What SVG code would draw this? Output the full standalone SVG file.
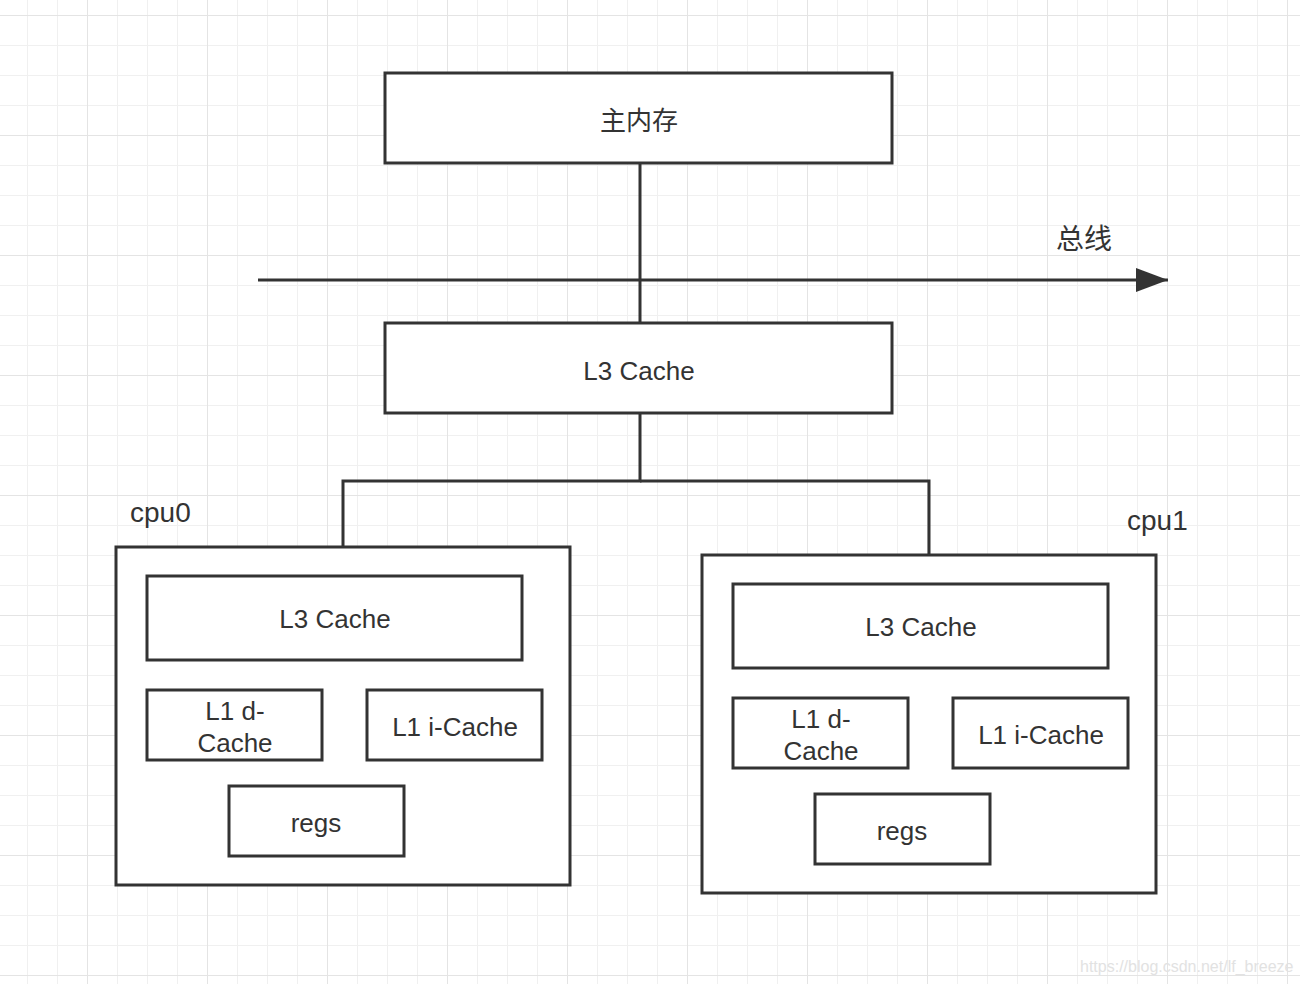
<svg xmlns="http://www.w3.org/2000/svg" width="1300" height="984" viewBox="0 0 1300 984">
<defs>
<pattern id="minor" x="27" y="15" width="30" height="30" patternUnits="userSpaceOnUse">
<path d="M0 0V30M0 0H30" fill="none" stroke="#f0f0f0" stroke-width="2"/>
</pattern>
<pattern id="major" x="87" y="15" width="120" height="120" patternUnits="userSpaceOnUse">
<path d="M0 0V120M0 0H120" fill="none" stroke="#e4e4e4" stroke-width="2"/>
</pattern>
<marker id="arrow" markerUnits="userSpaceOnUse" markerWidth="34" markerHeight="26" refX="32" refY="13" orient="auto">
<path d="M0 1L32 13L0 25Z" fill="#333"/>
</marker>
</defs>
<style>
.box{fill:#fff;stroke:#333;stroke-width:3}
.line{fill:none;stroke:#333;stroke-width:3}
.t{font-family:"Liberation Sans","Noto Sans CJK SC",sans-serif;font-size:26px;fill:#333;text-anchor:middle;dominant-baseline:central}
.lbl{font-family:"Liberation Sans","Noto Sans CJK SC",sans-serif;font-size:28px;fill:#333}
.wm{font-family:"Liberation Sans",sans-serif;font-size:16px;fill:#e2e2e2}
</style>
<rect width="1300" height="984" fill="#fff"/>
<rect width="1300" height="984" fill="url(#minor)"/>
<rect width="1300" height="984" fill="url(#major)"/>

<g id="connectors">
<path class="line" d="M640 164V323"/>
<path class="line" d="M258 280H1168" marker-end="url(#arrow)"/>
<path class="line" d="M640 413V481H343V547"/>
<path class="line" d="M640 481H929V555"/>
</g>

<g id="bus-label"><text class="lbl" x="1056" y="249">总线</text></g>

<g id="main-memory">
<rect class="box" x="385" y="73" width="507" height="90"/>
<text class="t" x="639" y="121">主内存</text>
</g>

<g id="l3-shared">
<rect class="box" x="385" y="323" width="507" height="90"/>
<text class="t" x="639" y="371">L3 Cache</text>
</g>

<g id="cpu0">
<text class="lbl" x="130" y="522">cpu0</text>
<rect class="box" x="116" y="547" width="454" height="338"/>
<g id="cpu0-l3">
<rect class="box" x="147" y="576" width="375" height="84"/>
<text class="t" x="335" y="619">L3 Cache</text>
</g>
<g id="cpu0-l1d">
<rect class="box" x="147" y="690" width="175" height="70"/>
<text class="t" x="235" y="711">L1 d-</text>
<text class="t" x="235" y="743">Cache</text>
</g>
<g id="cpu0-l1i">
<rect class="box" x="367" y="690" width="175" height="70"/>
<text class="t" x="455" y="727">L1 i-Cache</text>
</g>
<g id="cpu0-regs">
<rect class="box" x="229" y="786" width="175" height="70"/>
<text class="t" x="316" y="823">regs</text>
</g>
</g>

<g id="cpu1">
<text class="lbl" x="1127" y="530">cpu1</text>
<rect class="box" x="702" y="555" width="454" height="338"/>
<g id="cpu1-l3">
<rect class="box" x="733" y="584" width="375" height="84"/>
<text class="t" x="921" y="627">L3 Cache</text>
</g>
<g id="cpu1-l1d">
<rect class="box" x="733" y="698" width="175" height="70"/>
<text class="t" x="821" y="719">L1 d-</text>
<text class="t" x="821" y="751">Cache</text>
</g>
<g id="cpu1-l1i">
<rect class="box" x="953" y="698" width="175" height="70"/>
<text class="t" x="1041" y="735">L1 i-Cache</text>
</g>
<g id="cpu1-regs">
<rect class="box" x="815" y="794" width="175" height="70"/>
<text class="t" x="902" y="831">regs</text>
</g>
</g>

<text class="wm" x="1080" y="972">https://blog.csdn.net/lf_breeze</text>
</svg>
